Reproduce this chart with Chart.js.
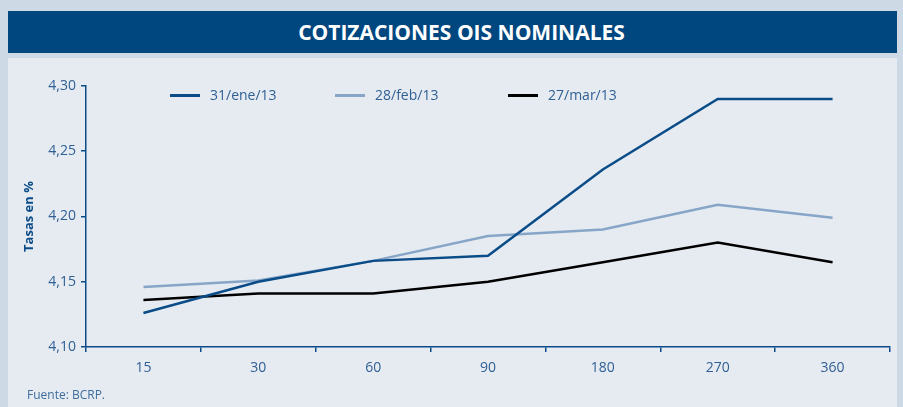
<!DOCTYPE html>
<html lang="es">
<head>
<meta charset="utf-8">
<title>Cotizaciones OIS nominales</title>
<script src="https://cdn.jsdelivr.net/npm/chart.js@4.4.1/dist/chart.umd.min.js"></script>
<style>
  html, body { margin: 0; padding: 0; }
  body {
    width: 903px; height: 407px; overflow: hidden; position: relative;
    background: #cddae5;
    font-family: "Open Sans", "Noto Sans", sans-serif;
  }
  #titulo {
    position: absolute; left: 8px; top: 11px; width: 889px; height: 42px;
    background: #00467f; color: #fff;
    font-weight: bold; font-size: 21px; line-height: 43px;
    text-align: center; padding-left: 18px; box-sizing: border-box;
  }
  #panel {
    position: absolute; left: 8px; top: 58px; width: 889px; height: 349px;
    background: #e6ebf2;
  }
  #lienzo { position: absolute; left: 0; top: 0; }
  #leyenda { position: absolute; top: 27px; left: 0; height: 20px; }
  .item { position: absolute; top: 0; white-space: nowrap; font-size: 14px; color: #2f5f93; line-height: 20px; }
  .item i { display: inline-block; width: 30px; height: 3px; vertical-align: middle; margin-right: 10px; margin-top: -2px; }
  #fuente { position: absolute; left: 19px; top: 328px; font-size: 12px; color: #3d6d9d; }
</style>
</head>
<body>
<div id="titulo">COTIZACIONES OIS NOMINALES</div>
<div id="panel">
  <canvas id="lienzo" width="889" height="349"></canvas>
  <div id="leyenda"></div>
  <div id="fuente">Fuente: BCRP.</div>
</div>
<script>
"use strict";

/* ── DATOS ─────────────────────────────── */
const plazos   = ["15", "30", "60", "90", "180", "270", "360"];
const ene13    = [4.126, 4.150, 4.166, 4.170, 4.236, 4.290, 4.290];
const feb13    = [4.146, 4.151, 4.166, 4.185, 4.190, 4.209, 4.199];
const mar13    = [4.136, 4.141, 4.141, 4.150, 4.165, 4.180, 4.165];
const nombres  = ["31/ene/13", "28/feb/13", "27/mar/13"];
const colores  = ["#0a4c88", "#87a6c7", "#000000"];
const ticksY   = [4.10, 4.15, 4.20, 4.25, 4.30];

const AZUL = "#2f5f93";
const EJE  = "#0b4c88";

/* ── LEYENDA ───────────────────────────── */
const posLeyenda = [162, 327, 500];
const leyenda = document.getElementById("leyenda");
nombres.forEach((n, i) => {
  const d = document.createElement("div");
  d.className = "item";
  d.style.left = posLeyenda[i] + "px";
  d.innerHTML = `<i style="background:${colores[i]}"></i>${n}`;
  leyenda.appendChild(d);
});

/* ── GRÁFICO ───────────────────────────── */
const series = [ene13, feb13, mar13];

new Chart(document.getElementById("lienzo").getContext("2d"), {
  type: "line",
  data: {
    labels: plazos,
    datasets: series.map((s, i) => ({
      label: nombres[i],
      data: s,
      borderColor: colores[i],
      borderWidth: 2.5,
      pointRadius: 0,
      tension: 0,
      fill: false
    }))
  },
  options: {
    responsive: false,
    animation: false,
    layout: { padding: { top: 28, right: 7, bottom: 30, left: 0 } },
    plugins: { legend: { display: false }, tooltip: { enabled: false } },
    scales: {
      x: {
        offset: true,
        grid: { offset: true, drawOnChartArea: false, color: EJE, tickLength: 5, lineWidth: 1.5 },
        border: { color: EJE, width: 1.5 },
        ticks: { color: AZUL, font: { family: "Open Sans", size: 14 }, padding: 8, maxRotation: 0 },
        afterFit: s => { s.height = 30; }
      },
      y: {
        min: ticksY[0],
        max: ticksY[ticksY.length - 1],
        afterBuildTicks: s => { s.ticks = ticksY.map(v => ({ value: v })); },
        grid: { drawOnChartArea: false, color: EJE, tickLength: 5, lineWidth: 1.5 },
        border: { color: EJE, width: 1.5 },
        ticks: {
          color: AZUL, font: { family: "Open Sans", size: 14 }, padding: 5,
          callback: v => v.toFixed(2).replace(".", ",")
        },
        title: {
          display: true, text: "Tasas en %", color: EJE,
          font: { family: "Open Sans", size: 13, weight: "bold" }, padding: { top: 13, bottom: 0 }
        },
        afterFit: s => { s.width = 78; }
      }
    }
  }
});
</script>
</body>
</html>
